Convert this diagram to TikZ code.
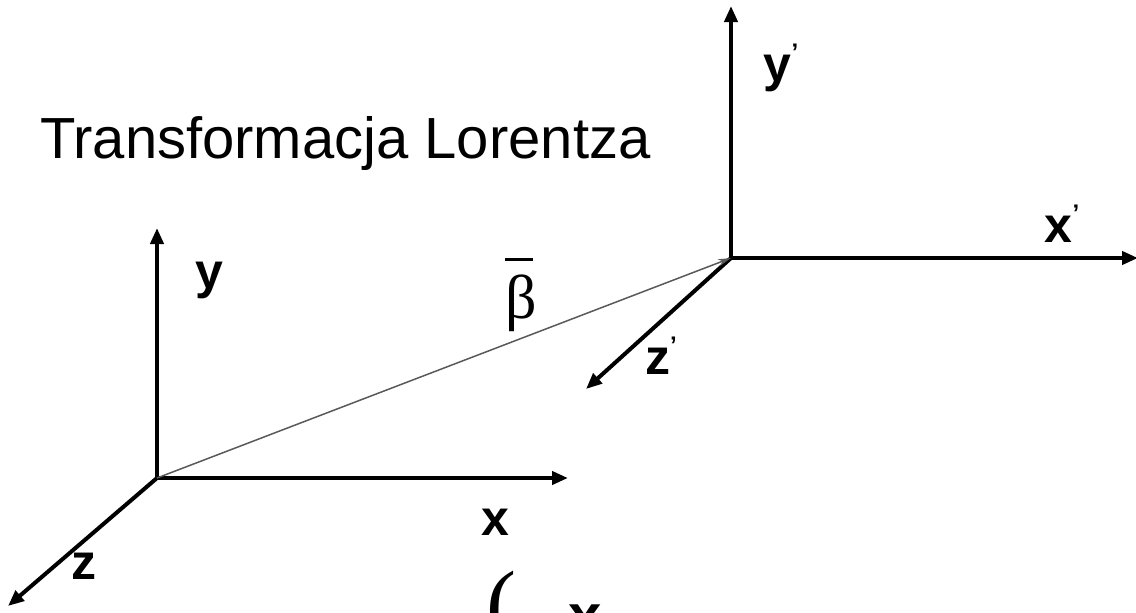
\documentclass[tikz,border=0pt]{standalone}
\usepackage{fontspec}
\setmainfont{Liberation Sans}
\newfontfamily\greekfont{Liberation Serif}
\usetikzlibrary{arrows.meta, positioning}
\newcommand{\prm}{\raisebox{0.42em}{\fontsize{24}{24}\selectfont\bfseries'}}
\tikzset{
  axis/.style={-{Triangle[length=16pt,width=13pt]}, line width=4pt, black},
  vel/.style={-{Stealth[length=13pt,width=7pt]}, line width=1.5pt, black!65},
  lbl/.style={font=\fontsize{50}{50}\selectfont\bfseries, inner sep=0pt},
  ttl/.style={font=\fontsize{58}{60}\selectfont, inner sep=0pt},
}
\begin{document}
\begin{tikzpicture}[x=1pt, y=-1pt]
  \useasboundingbox (0,0) rectangle (1136,613);
  \clip (0,0) rectangle (1136,613);

  \node[ttl, anchor=base west] (title) at (40,158) {Transformacja Lorentza};

  % frame at rest
  \coordinate (o) at (157,478);
  \coordinate (xend) at (568,478);
  \coordinate (yend) at (157,228);
  \coordinate (zend) at (8,606);
  \draw[axis] (o) -- (xend);
  \draw[axis] (o) -- (yend);
  \draw[axis] (o) -- (zend);
  \node[lbl] (ylbl) at (209,280) {y};
  \node[lbl] (xlbl) at (495,522) {x};
  \node[lbl] (zlbl) at (84,566) {z};

  % moving frame
  \coordinate (op) at (731,258);
  \coordinate (xpend) at (1138,258);
  \coordinate (ypend) at (731,6);
  \coordinate (zpend) at (586,389);
  \draw[axis] (op) -- (xpend);
  \draw[axis] (op) -- (ypend);
  \draw[axis] (op) -- (zpend);
  \node[lbl] (yplbl) at (781,68) {y\prm};
  \node[lbl] (xplbl) at (1062,224) {x\prm};
  \node[lbl] (zplbl) at (661,356) {z\prm};

  % velocity
  \draw[vel] (o) -- (op);
  \node[inner sep=0pt, anchor=base west, font=\fontsize{62}{62}\greekfont] (beta) at (505,318)
    {\makebox[0pt][l]{\rule[0.92em]{0.45em}{0.045em}}β};

  % transformation formula (cut at the bottom edge)
  \node[inner sep=0pt, anchor=north west, font=\fontsize{90}{90}\greekfont] (lpar) at (486,571) {(};
  \node[lbl, anchor=north west, font=\fontsize{60}{60}\selectfont\bfseries] (xform) at (568,605) {x};
\end{tikzpicture}
\end{document}
